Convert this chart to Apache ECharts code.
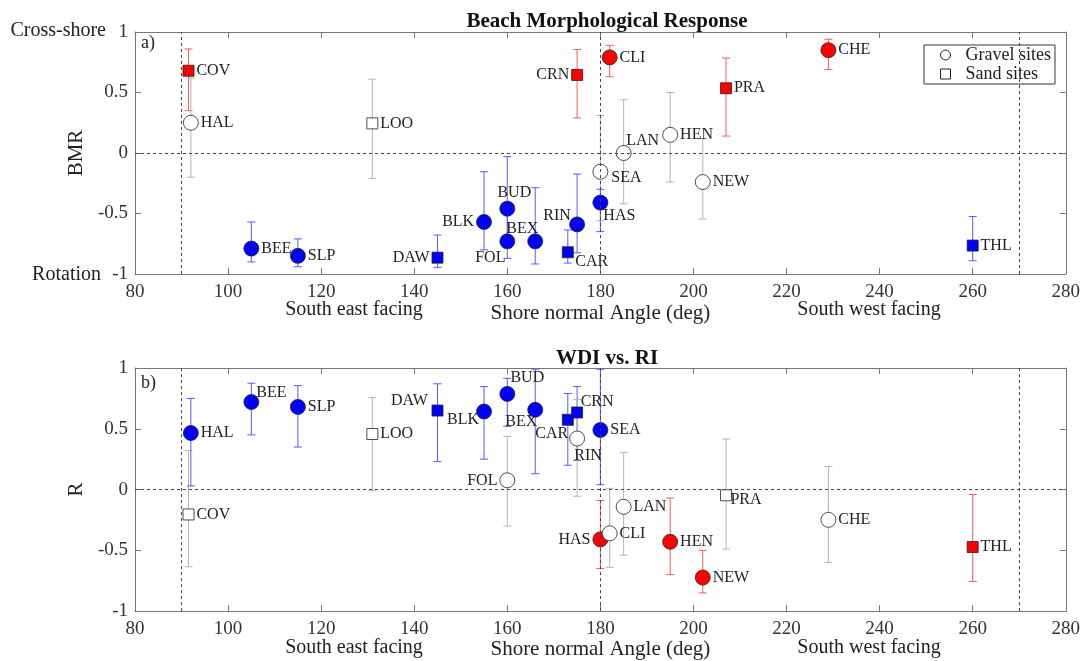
<!DOCTYPE html>
<html>
<head>
<meta charset="utf-8">
<title>Beach Morphological Response</title>
<script src="https://cdn.jsdelivr.net/npm/echarts@6/dist/echarts.min.js"></script>
<style>
  html, body { margin: 0; padding: 0; background: #fff; }
  #chart { width: 1083px; height: 661px; }
</style>
</head>
<body>
<div id="chart"></div>
<script>
// site data
const sites = ['COV', 'HAL', 'BEE', 'SLP', 'LOO', 'DAW', 'BLK', 'BUD', 'FOL', 'BEX', 'CAR',
  'CRN', 'RIN', 'SEA', 'HAS', 'CLI', 'LAN', 'HEN', 'NEW', 'PRA', 'CHE', 'THL']
const angle = [91.5, 92, 105, 115, 131, 145, 155, 160, 160, 166, 173,
  175, 175, 180, 180, 182, 185, 195, 202, 207, 229, 260]
const siteType = ['sand', 'gravel', 'gravel', 'gravel', 'sand', 'sand', 'gravel', 'gravel', 'gravel', 'gravel', 'sand',
  'sand', 'gravel', 'gravel', 'gravel', 'gravel', 'gravel', 'gravel', 'gravel', 'sand', 'gravel', 'sand']

// panel a) BMR
const bmrValue = [0.68, 0.25, -0.79, -0.85, 0.245, -0.865, -0.57, -0.46, -0.73, -0.73, -0.82,
  0.645, -0.59, -0.155, -0.41, 0.79, 0.0, 0.15, -0.24, 0.535, 0.85, -0.765]
const bmrLow = [0.35, -0.2, -0.9, -0.94, -0.21, -0.945, -0.8, -0.75, -0.87, -0.917, -0.91,
  0.29, -0.824, -0.56, -0.65, 0.63, -0.42, -0.24, -0.545, 0.14, 0.69, -0.89]
const bmrHigh = [0.86, 0.62, -0.57, -0.71, 0.61, -0.678, -0.155, -0.03, -0.5, -0.287, -0.636,
  0.855, -0.174, 0.31, -0.3, 0.89, 0.44, 0.5, 0.12, 0.785, 0.94, -0.525]
const bmrSig = ['pos', 'ns', 'neg', 'neg', 'ns', 'neg', 'neg', 'neg', 'neg', 'neg', 'neg',
  'pos', 'neg', 'ns', 'neg', 'pos', 'ns', 'ns', 'ns', 'pos', 'pos', 'neg']

// panel b) R
const rValue = [-0.205, 0.465, 0.72, 0.68, 0.457, 0.65, 0.642, 0.787, 0.076, 0.656, 0.574,
  0.634, 0.42, 0.49, -0.41, -0.36, -0.142, -0.43, -0.724, -0.047, -0.249, -0.473]
const rLow = [-0.635, 0.03, 0.45, 0.35, -0.01, 0.23, 0.25, 0.52, -0.3, 0.13, 0.2,
  0.24, -0.055, 0.04, -0.65, -0.64, -0.54, -0.7, -0.85, -0.49, -0.6, -0.757]
const rHigh = [0.32, 0.75, 0.875, 0.855, 0.757, 0.87, 0.847, 0.915, 0.437, 0.99, 0.79,
  0.847, 0.74, 0.99, -0.09, 0.01, 0.306, -0.07, -0.5, 0.416, 0.19, -0.04]
const rSig = ['ns', 'neg', 'neg', 'neg', 'ns', 'neg', 'neg', 'neg', 'ns', 'neg', 'neg',
  'neg', 'ns', 'neg', 'pos', 'ns', 'ns', 'pos', 'pos', 'ns', 'ns', 'pos']

const xTicks = { min: 80, max: 280, interval: 20 }
const yTicks = { min: -1, max: 1, interval: 0.5 }
const refAngles = [90, 180, 270]

const FONT = '"Liberation Serif", "DejaVu Serif", serif'
const fillColor = { pos: '#ff0000', neg: '#0000ff', ns: '#ffffff' }
const barColor = { pos: '#ff5a5a', neg: '#5a5aff', ns: '#b4b4b4' }

// label placement per site: 'left', or a centre offset [dx, dy]; default is right
const bmrLabels = {
  DAW: 'left', BLK: 'left', CRN: 'left',
  BUD: [7, -16], FOL: [-17, 16], BEX: [-13, -13], CAR: [24, 10],
  RIN: [-20, -9], SEA: [26, 6], HAS: [19, 13], LAN: [19, -12]
}
const rLabels = {
  FOL: 'left', HAS: 'left',
  BEE: [20, -9], DAW: [-28, -10], BLK: [-21, 8], BUD: [20, -16], BEX: [-14, 12],
  CAR: [-16, 14], CRN: [20, -11], RIN: [11, 17], PRA: [20, 5]
}

const grids = [
  { left: 135, right: 14, top: 32, height: 242 },
  { left: 135, right: 14, top: 368, height: 244 }
]

const axisLine = { show: true, onZero: false, lineStyle: { color: '#777' } }
const axisTick = { show: true, inside: true, length: 6, lineStyle: { color: '#777' } }

function xAxes(gridIndex, labelMargin) {
  return [
    {
      type: 'value', gridIndex, ...xTicks,
      name: 'Shore normal Angle (deg)', nameLocation: 'middle', nameGap: 25,
      nameTextStyle: { fontFamily: FONT, fontSize: 21, color: '#222' },
      axisLine, axisTick,
      axisLabel: { margin: labelMargin, fontFamily: FONT, fontSize: 19, color: '#333' },
      splitLine: { show: false }
    },
    {
      type: 'value', gridIndex, position: 'top', ...xTicks,
      axisLine, axisTick,
      axisLabel: { show: false },
      splitLine: { show: false }
    }
  ]
}

function yAxes(gridIndex, name) {
  return [
    {
      type: 'value', gridIndex, ...yTicks,
      name, nameLocation: 'middle', nameGap: 40,
      nameTextStyle: { fontFamily: FONT, fontSize: 21, color: '#222' },
      axisLine, axisTick,
      axisLabel: { margin: 7, fontFamily: FONT, fontSize: 19, color: '#333' },
      splitLine: { show: false }
    },
    {
      type: 'value', gridIndex, position: 'right', ...yTicks,
      axisLine, axisTick,
      axisLabel: { show: false },
      splitLine: { show: false }
    }
  ]
}

function errorSeries(axisIndex, low, high, sig) {
  return {
    type: 'custom',
    xAxisIndex: axisIndex,
    yAxisIndex: axisIndex,
    z: 2,
    silent: true,
    data: angle.map((a, i) => [a, low[i], high[i]]),
    encode: { x: 0, y: [1, 2] },
    renderItem(params, api) {
      const top = api.coord([api.value(0), api.value(2)])
      const bot = api.coord([api.value(0), api.value(1)])
      const style = { stroke: barColor[sig[params.dataIndex]], lineWidth: 1 }
      const cap = 4
      return {
        type: 'group',
        children: [
          { type: 'line', shape: { x1: top[0], y1: top[1], x2: bot[0], y2: bot[1] }, style },
          { type: 'line', shape: { x1: top[0] - cap, y1: top[1], x2: top[0] + cap, y2: top[1] }, style },
          { type: 'line', shape: { x1: bot[0] - cap, y1: bot[1], x2: bot[0] + cap, y2: bot[1] }, style }
        ]
      }
    },
    markLine: {
      silent: true,
      symbol: 'none',
      label: { show: false },
      lineStyle: { color: '#444', type: [3, 3], width: 1 },
      data: [...refAngles.map((a) => ({ xAxis: a })), { yAxis: 0 }]
    }
  }
}

function markerSeries(name, type, axisIndex, values, sig, labels) {
  const data = []
  sites.forEach((s, i) => {
    if (siteType[i] !== type) return
    const place = labels[s]
    let label = { position: 'right', distance: 2 }
    if (place === 'left') label = { position: 'left', distance: 2 }
    else if (Array.isArray(place)) label = { position: 'inside', offset: place, align: 'center', verticalAlign: 'middle' }
    data.push({
      name: s,
      value: [angle[i], values[i]],
      itemStyle: { color: fillColor[sig[i]] },
      label
    })
  })
  return {
    name,
    type: 'scatter',
    xAxisIndex: axisIndex,
    yAxisIndex: axisIndex,
    z: 3,
    symbol: type === 'gravel' ? 'circle' : 'rect',
    symbolSize: type === 'gravel' ? 15 : 11,
    itemStyle: { borderColor: '#222', borderWidth: 0.8, opacity: 1 },
    label: {
      show: true,
      formatter: '{b}',
      fontFamily: FONT,
      fontSize: 16,
      color: '#222'
    },
    emphasis: { disabled: true },
    data
  }
}

function text(str, x, y, align, opts) {
  return {
    type: 'text', x, y,
    style: Object.assign({ text: str, font: '20px ' + FONT, fill: '#222', textAlign: align, textVerticalAlign: 'middle' }, opts)
  }
}

const chart = echarts.init(document.getElementById('chart'), null, { renderer: 'canvas' })

chart.setOption({
  backgroundColor: '#fff',
  animation: false,
  title: [
    { text: 'Beach Morphological Response', left: 602, top: 6, textAlign: 'center',
      textStyle: { fontFamily: FONT, fontSize: 21, fontWeight: 'bold', color: '#111' } },
    { text: 'WDI vs. RI', left: 602, top: 343, textAlign: 'center',
      textStyle: { fontFamily: FONT, fontSize: 21, fontWeight: 'bold', color: '#111' } }
  ],
  legend: {
    left: 924, top: 45, orient: 'vertical',
    selectedMode: false,
    backgroundColor: '#fff',
    borderColor: '#333', borderWidth: 1,
    padding: [1, 4, 1, 16],
    itemWidth: 10, itemHeight: 10, itemGap: 1,
    textStyle: { fontFamily: FONT, fontSize: 18, color: '#222', padding: [0, 0, 0, 10] },
    data: [
      { name: 'Gravel sites', icon: 'circle', itemStyle: { color: '#fff', borderColor: '#222', borderWidth: 1 } },
      { name: 'Sand sites', icon: 'rect', itemStyle: { color: '#fff', borderColor: '#222', borderWidth: 1 } }
    ]
  },
  grid: grids,
  xAxis: [...xAxes(0, 9), ...xAxes(1, 8)],
  yAxis: [...yAxes(0, 'BMR'), ...yAxes(1, 'R')],
  graphic: [
    text('Cross-shore', 106, 31, 'right'),
    text('Rotation', 101, 275, 'right'),
    text('South east facing', 354, 310, 'center'),
    text('South west facing', 869, 310, 'center'),
    text('South east facing', 354, 648, 'center'),
    text('South west facing', 869, 648, 'center'),
    text('a)', 141, 43, 'left', { font: '18px ' + FONT }),
    text('b)', 141, 383, 'left', { font: '18px ' + FONT })
  ],
  series: [
    errorSeries(0, bmrLow, bmrHigh, bmrSig),
    markerSeries('Gravel sites', 'gravel', 0, bmrValue, bmrSig, bmrLabels),
    markerSeries('Sand sites', 'sand', 0, bmrValue, bmrSig, bmrLabels),
    errorSeries(2, rLow, rHigh, rSig),
    markerSeries('Gravel sites', 'gravel', 2, rValue, rSig, rLabels),
    markerSeries('Sand sites', 'sand', 2, rValue, rSig, rLabels)
  ]
})
</script>
</body>
</html>
